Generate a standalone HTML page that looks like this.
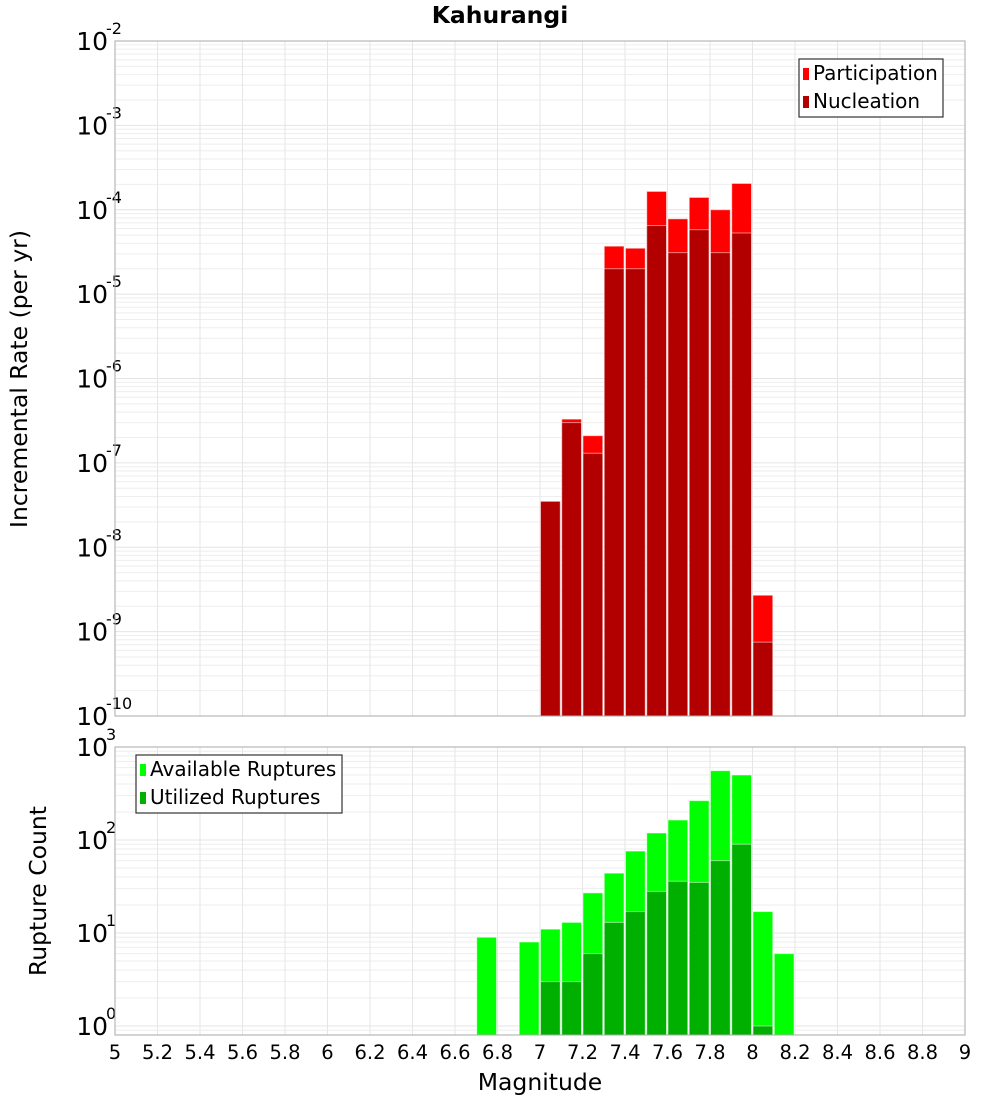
<!DOCTYPE html>
<html><head><meta charset="utf-8"><style>
body{margin:0;background:#fff}
svg{display:block;font-family:"DejaVu Sans","Liberation Sans",sans-serif}
</style></head><body>
<svg id="c" width="1000" height="1100" xmlns="http://www.w3.org/2000/svg">
<text x="500" y="23" text-anchor="middle" font-size="23.5" font-weight="bold">Kahurangi</text>
<g id="top"></g>
<g id="bot"></g>
<text transform="translate(27,379) rotate(-90)" text-anchor="middle" font-size="23.5">Incremental Rate (per yr)</text>
<text transform="translate(46,891) rotate(-90)" text-anchor="middle" font-size="23.5">Rupture Count</text>
<text x="540" y="1090" text-anchor="middle" font-size="23.5">Magnitude</text>
</svg>
<script>
const topMags=[7.05,7.15,7.25,7.35,7.45,7.55,7.65,7.75,7.85,7.95,8.05];
const participation=[3.5e-8,3.3e-7,2.1e-7,3.7e-5,3.5e-5,1.65e-4,7.8e-5,1.4e-4,1.0e-4,2.05e-4,2.7e-9];
const nucleation=[3.5e-8,3.0e-7,1.3e-7,2.0e-5,2.0e-5,6.5e-5,3.1e-5,5.8e-5,3.1e-5,5.3e-5,7.5e-10];
const botMags=[6.75,6.95,7.05,7.15,7.25,7.35,7.45,7.55,7.65,7.75,7.85,7.95,8.05,8.15];
const available=[9,8,11,13,27,44,76,119,164,265,556,500,17,6];
const utilized=[0,0,3,3,6,13,17,28,36,35,60,90,1,0];
const xTicks=[5,5.2,5.4,5.6,5.8,6,6.2,6.4,6.6,6.8,7,7.2,7.4,7.6,7.8,8,8.2,8.4,8.6,8.8,9];
const topExps=[-10,-9,-8,-7,-6,-5,-4,-3,-2];
const botExps=[0,1,2,3];

const NS='http://www.w3.org/2000/svg';
const X0=115,X1=965;
const x=m=>X0+(m-5)/4*(X1-X0);
function mk(p,t,a){const e=document.createElementNS(NS,t);for(const k in a)e.setAttribute(k,a[k]);p.appendChild(e);return e;}

function panel(g,T,B,lmin,lmax,exps,name){
  const y=v=>B-(Math.log10(v)-lmin)/(lmax-lmin)*(B-T);
  const bg=mk(g,'rect',{x:X0,y:T,width:X1-X0,height:B-T,fill:'#fff'});
  
  
  for(let d=Math.floor(lmin);d<lmax;d++){for(let k=1;k<10;k++){const v=k*Math.pow(10,d);const yy=y(v);if(yy<T-0.5||yy>B+0.5)continue;
    const l=mk(g,'line',{x1:X0,x2:X1,y1:yy,y2:yy,stroke:k==1?'#e4e4e4':'#eeeeee','stroke-width':1});
    
    }}
  xTicks.forEach(t=>{const l=mk(g,'line',{x1:x(t),x2:x(t),y1:T,y2:B,stroke:'#e6e6e6'});
    
    });
  exps.forEach(e=>{const yy=y(Math.pow(10,e));const t=mk(g,'text',{x:108,y:yy+9,'text-anchor':'end','font-size':25});
    
    
    t.textContent='10';
    const s=mk(g,'text',{x:106,y:yy-7,'font-size':16});
    
    
    s.textContent=String(e);});
  return y;
}
function bars(g,mags,vals,y,B,col,name){
  const w=0.1/4*(X1-X0);
  mags.forEach((m,i)=>{if(vals[i]<=0)return;const yy=Math.max(y(vals[i]),0);
    const r=mk(g,'rect',{x:x(m)-w/2+0.5,y:yy,width:w-1.5,height:B-yy,fill:col,stroke:'#fff','stroke-opacity':0.5,'stroke-width':1});
    
    });
}
function legend(g,lx,ly,w,items){
  const b=mk(g,'rect',{x:lx,y:ly,width:w,height:58,fill:'#fff',stroke:'#333','stroke-width':1.2});
  
  
  items.forEach((it,i)=>{const yy=ly+14+i*28;
    const s=mk(g,'rect',{x:lx+4,y:yy-5,width:6,height:12,fill:it[1]});
    
    
    const t=mk(g,'text',{x:lx+14,y:yy+7,'font-size':20});
    
    
    t.textContent=it[0];});
}
const gt=document.getElementById('top'),gb=document.getElementById('bot');
const yt=panel(gt,41,716,-10,-2,topExps,'rate');
bars(gt,topMags,participation,yt,716,'#ff0000','participation');
bars(gt,topMags,nucleation,yt,716,'#b20000','nucleation');
mk(gt,'rect',{x:X0,y:41,width:X1-X0,height:675,fill:'none',stroke:'#aaa'});
legend(gt,799,59,144,[['Participation','#ff0000'],['Nucleation','#b20000']]);

const BT=747,BB=1035,dec=93;
const yb=panel(gb,BT,BB,-(BB-BT-3*dec)/dec,3,botExps,'count');
bars(gb,botMags,available,yb,BB,'#00ff00','available');
bars(gb,botMags,utilized,yb,BB,'#00b000','utilized');
mk(gb,'rect',{x:X0,y:BT,width:X1-X0,height:BB-BT,fill:'none',stroke:'#aaa'});
legend(gb,136,755,206,[['Available Ruptures','#00ff00'],['Utilized Ruptures','#00b000']]);
xTicks.forEach(t=>{const e=mk(gb,'text',{x:x(t),y:1059,'text-anchor':'middle','font-size':19.5});
  
  
  e.textContent=String(t);});
</script>
</body></html>
